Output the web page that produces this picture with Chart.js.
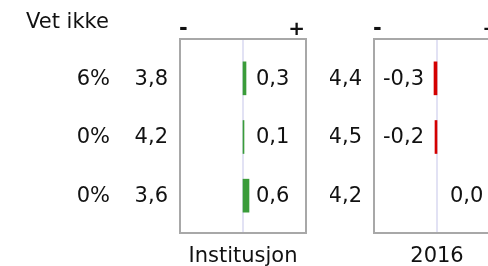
<!DOCTYPE html>
<html>
<head>
<meta charset="utf-8">
<script src="https://cdn.jsdelivr.net/npm/chart.js@4"></script>
<style>
  html, body { margin: 0; padding: 0; background: #fff; overflow: hidden; width: 488px; height: 266px; }
  canvas { position: absolute; top: 0; }
  #instChart { left: 0; }
  #yearChart { left: 330px; }
</style>
</head>
<body>
<canvas id="instChart" width="330" height="266"></canvas>
<canvas id="yearChart" width="200" height="266"></canvas>
<script>
const rows = ["r1", "r2", "r3"];
const vetIkke = [6, 0, 0];
const instMeans = [3.8, 4.2, 3.6];
const instDiffs = [0.3, 0.1, 0.6];
const yearMeans = [4.4, 4.5, 4.2];
const yearDiffs = [-0.3, -0.2, 0.0];

const FONT = "21px 'DejaVu Sans', Verdana, sans-serif";
const fmt = (v) => v.toFixed(1).replace(".", ",");

// box, centre line and all the texts round each panel
const panelPlugin = {
  id: "panel",
  beforeDatasetsDraw(chart, args, opts) {
    const { ctx, chartArea } = chart;
    const x0 = chart.scales.x.getPixelForValue(0);
    ctx.save();
    ctx.strokeStyle = "#e2e2f4";
    ctx.lineWidth = 2;
    ctx.beginPath();
    ctx.moveTo(x0, chartArea.top - 10);
    ctx.lineTo(x0, chartArea.bottom + 8);
    ctx.stroke();
    ctx.restore();
  },
  afterDraw(chart, args, opts) {
    const { ctx, chartArea } = chart;
    const ys = chart.scales.y;
    const x0 = chart.scales.x.getPixelForValue(0);
    const top = chartArea.top - 10;
    const bottom = chartArea.bottom + 8;
    ctx.save();
    ctx.strokeStyle = "#a8a8a8";
    ctx.lineWidth = 2;
    ctx.strokeRect(chartArea.left, top, chartArea.right - chartArea.left, bottom - top);

    ctx.fillStyle = "#111";
    ctx.textBaseline = "alphabetic";
    // - and + above the box
    ctx.font = "bold 21px 'DejaVu Sans', Verdana, sans-serif";
    ctx.textAlign = "left";
    ctx.fillText("-", chartArea.left - 1, 35);
    ctx.font = "bold 20px 'DejaVu Sans', Verdana, sans-serif";
    ctx.textAlign = "right";
    ctx.fillText("+", chartArea.right - 1, 35);

    ctx.font = FONT;
    ctx.textAlign = "center";
    ctx.fillText(opts.title, (chartArea.left + chartArea.right) / 2, 262);
    if (opts.vet) {
      ctx.textAlign = "left";
      ctx.fillText("Vet ikke", 26, 28);
    }

    ctx.textBaseline = "middle";
    const diffs = chart.data.datasets[0].data;
    rows.forEach((r, i) => {
      const y = ys.getPixelForValue(i) + 1;
      ctx.textAlign = "right";
      ctx.fillText(fmt(opts.means[i]), chartArea.left - 12, y);
      if (diffs[i] < 0) {
        ctx.textAlign = "right";
        ctx.fillText(fmt(diffs[i]), x0 - 13, y);
      } else {
        ctx.textAlign = "left";
        ctx.fillText(fmt(diffs[i]), x0 + 13, y);
      }
      if (opts.vet) {
        ctx.textAlign = "right";
        ctx.fillText(opts.vet[i] + "%", 110, y);
      }
    });
    ctx.restore();
  },
};

function makePanel(canvas, diffs, means, title, vet, padLeft, padRight) {
  return new Chart(canvas, {
    type: "bar",
    data: {
      labels: rows,
      datasets: [
        {
          data: diffs,
          backgroundColor: diffs.map((v) =>
            v < 0 ? "#d40000" : v > 0 ? "#3a9c3a" : "rgba(0,0,0,0)"
          ),
          borderWidth: 0,
          barThickness: 33,
        },
      ],
    },
    options: {
      indexAxis: "y",
      responsive: false,
      animation: false,
      layout: {
        padding: { left: padLeft, right: padRight, top: 49, bottom: 41 },
      },
      plugins: {
        legend: { display: false },
        tooltip: { enabled: false },
        panel: { means: means, title: title, vet: vet },
      },
      scales: {
        x: { display: false, min: -6.3, max: 6.3 },
        y: { display: false, offset: true },
      },
    },
    plugins: [panelPlugin],
  });
}

makePanel(document.getElementById("instChart"), instDiffs, instMeans, "Institusjon", vetIkke, 180, 24);
makePanel(document.getElementById("yearChart"), yearDiffs, yearMeans, "2016", null, 44, 30);
</script>
</body>
</html>
